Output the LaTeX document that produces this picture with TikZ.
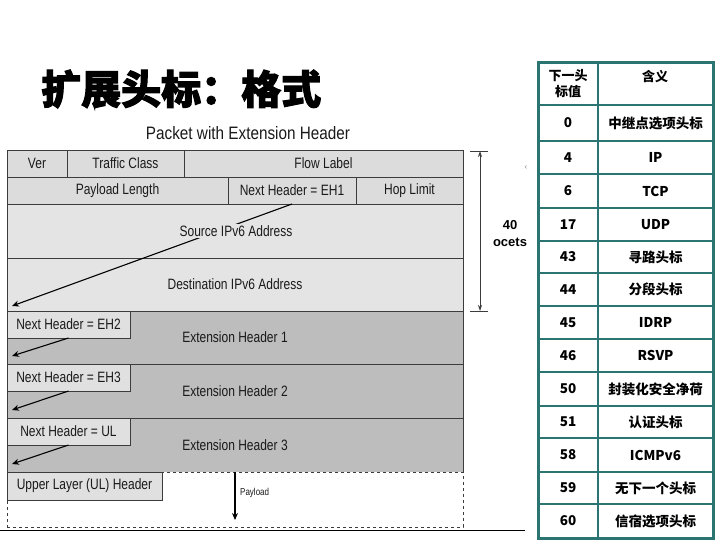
\documentclass[tikz,border=0pt]{standalone}
\usepackage{fontspec}
\usepackage{graphicx}
\setmainfont{Liberation Sans}
\newfontfamily\cjk{Noto Sans CJK SC}
\newfontfamily\cjkt[BoldFeatures={FakeBold=2.5}]{Noto Sans CJK SC}
\usetikzlibrary{arrows.meta}
\definecolor{hdrC}{HTML}{DCDCDC}
\definecolor{addrC}{HTML}{E4E4E4}
\definecolor{ehC}{HTML}{BDBDBD}
\definecolor{boxC}{HTML}{E0E0E0}
\definecolor{lineC}{HTML}{3C3C3C}
\definecolor{txtC}{HTML}{1A1A1A}
\definecolor{tealC}{HTML}{2A7472}
\newcommand{\nar}[1]{\scalebox{0.8}[1]{#1}}
\begin{document}
\begin{tikzpicture}[x=1pt,y=-1pt,
  cellbox/.style={draw=lineC, line width=0.8pt, inner sep=0pt, outer sep=0pt, anchor=north west, text=txtC, font=\fontsize{15}{18}\selectfont},
  lab/.style={text=txtC, font=\fontsize{15}{18}\selectfont, inner sep=1.5pt},
  tcell/.style={draw=tealC, line width=2.4pt, inner sep=0pt, outer sep=0pt, anchor=north west, font=\cjk\bfseries\fontsize{13.5}{16}\selectfont, text=black, align=center},
  arr/.style={-{Stealth[length=7pt,width=6pt]}, line width=1.1pt, draw=black}
]
\useasboundingbox (0,0) rectangle (720,540);

% title
\node[anchor=west, font=\cjkt\bfseries\fontsize{40}{44}\selectfont, inner sep=0pt] (title) at (41,89) {扩展头标：格式};
\node[font=\fontsize{18}{20}\selectfont, text=txtC, inner sep=0pt] (cap) at (248,133) {\scalebox{0.85}[1]{Packet with Extension Header}};

% row 1
\node[cellbox, fill=hdrC, minimum width=60pt, minimum height=27pt] (ver) at (7,150) {\nar{Ver}};
\node[cellbox, fill=hdrC, minimum width=117pt, minimum height=27pt] (tc) at (67,150) {\nar{Traffic Class}};
\node[cellbox, fill=hdrC, minimum width=279pt, minimum height=27pt] (fl) at (184,150) {\nar{Flow Label}};
% row 2
\node[cellbox, fill=hdrC, minimum width=221pt, minimum height=27pt] (pl) at (7,177) {\nar{Payload Length}};
\node[cellbox, fill=hdrC, minimum width=128pt, minimum height=27pt] (nh1) at (228,177) {\nar{Next Header = EH1}};
\node[cellbox, fill=hdrC, minimum width=107pt, minimum height=27pt] (hl) at (356,177) {\nar{Hop Limit}};
% addresses
\node[cellbox, fill=addrC, minimum width=456pt, minimum height=54pt] (src) at (7,204) {};
\node[cellbox, fill=addrC, minimum width=456pt, minimum height=53pt] (dst) at (7,258) {\nar{Destination IPv6 Address}};
% extension headers
\node[cellbox, fill=ehC, minimum width=456pt, minimum height=53pt] (eh1) at (7,311) {\nar{Extension Header 1}};
\node[cellbox, fill=ehC, minimum width=456pt, minimum height=54pt] (eh2) at (7,364) {\nar{Extension Header 2}};
\node[cellbox, fill=ehC, minimum width=456pt, minimum height=54pt] (eh3) at (7,418) {\nar{Extension Header 3}};
\node[cellbox, fill=boxC, minimum width=123pt, minimum height=27pt] (nh2) at (7,311) {\nar{Next Header = EH2}};
\node[cellbox, fill=boxC, minimum width=123pt, minimum height=27pt] (nh3) at (7,364) {\nar{Next Header = EH3}};
\node[cellbox, fill=boxC, minimum width=123pt, minimum height=27pt] (nhul) at (7,418) {\nar{Next Header = UL}};
% upper layer
\node[cellbox, draw=lineC, dashed, line width=0.6pt, fill=white, minimum width=456pt, minimum height=55pt] (ula) at (7,472) {};
\node[cellbox, fill=boxC, minimum width=155pt, minimum height=28pt] (ulh) at (7,472) {\nar{Upper Layer (UL) Header}};

% arrows
\coordinate (e1) at (12,306);
\draw[arr] (nh1.south) -- (e1);
\node[lab, fill=addrC] (srcl) at (236,231) {\nar{Source IPv6 Address}};
\coordinate (e2) at (12,356);
\coordinate (e3) at (12,410);
\coordinate (e4) at (12,464);
\draw[arr] (nh2.south) -- (e2);
\draw[arr] (nh3.south) -- (e3);
\draw[arr] (nhul.south) -- (e4);
\coordinate (p1) at (235,472);
\coordinate (p2) at (235,520);
\draw[arr] (p1) -- (p2);
\node[anchor=west, font=\fontsize{10}{12}\selectfont, text=txtC, inner sep=0pt] (pay) at (240,493) {\nar{Payload}};

% bottom line
\coordinate (b1) at (0,530);
\coordinate (b2) at (525,530);
\draw[line width=0.9pt, black] (b1) -- (b2);

% dimension 40 octets
\coordinate (d1) at (480,151);
\coordinate (d2) at (480,311);
\coordinate (t1a) at (470,151); \coordinate (t1b) at (488,151);
\coordinate (t2a) at (470,311); \coordinate (t2b) at (488,311);
\draw[line width=0.7pt, draw=lineC] (t1a) -- (t1b);
\draw[line width=0.7pt, draw=lineC] (t2a) -- (t2b);
\draw[{Stealth[length=6pt,width=4pt]}-{Stealth[length=6pt,width=4pt]}, line width=0.8pt, draw=lineC] (d1) -- (d2);
\node[font=\bfseries\fontsize{13}{16}\selectfont, inner sep=0pt] (n40) at (510,225) {40};
\node[font=\bfseries\fontsize{13}{16}\selectfont, inner sep=0pt] (noc) at (510,242) {ocets};
\node[font=\fontsize{8}{9}\selectfont, text=gray, inner sep=0pt] (mk) at (526,168) {‹};

% table
\node[tcell, font=\cjk\bfseries\fontsize{13}{16}\selectfont, minimum width=60pt, minimum height=42pt] (th1) at (538,63) {下一头\\标值};
\node[tcell, minimum width=115pt, minimum height=42pt, anchor=north west] (th2) at (598,63) {};
\node[font=\cjk\bfseries\fontsize{13}{16}\selectfont, inner sep=0pt] (th2t) at (655,77) {含义};
\foreach \ya/\yb/\nv/\tv [count=\k] in {
  105/141/0/中继点选项头标,
  141/174/4/IP,
  174/208/6/TCP,
  208/241/17/UDP,
  241/273/43/寻路头标,
  273/306/44/分段头标,
  306/339/45/IDRP,
  339/372/46/RSVP,
  372/406/50/封装化安全净荷,
  406/438/51/认证头标,
  438/472/58/ICMPv6,
  472/504/59/无下一个头标,
  504/538/60/信宿选项头标}{
  \node[tcell, minimum width=60pt, minimum height={\yb-\ya}] (ta\k) at (538,\ya) {\nv};
  \node[tcell, minimum width=115pt, minimum height={\yb-\ya}] (tb\k) at (598,\ya) {\tv};
}
\coordinate (tl) at (538,63);
\coordinate (br) at (713,538);
\draw[draw=tealC, line width=3pt] (tl) rectangle (br);
\end{tikzpicture}
\end{document}
